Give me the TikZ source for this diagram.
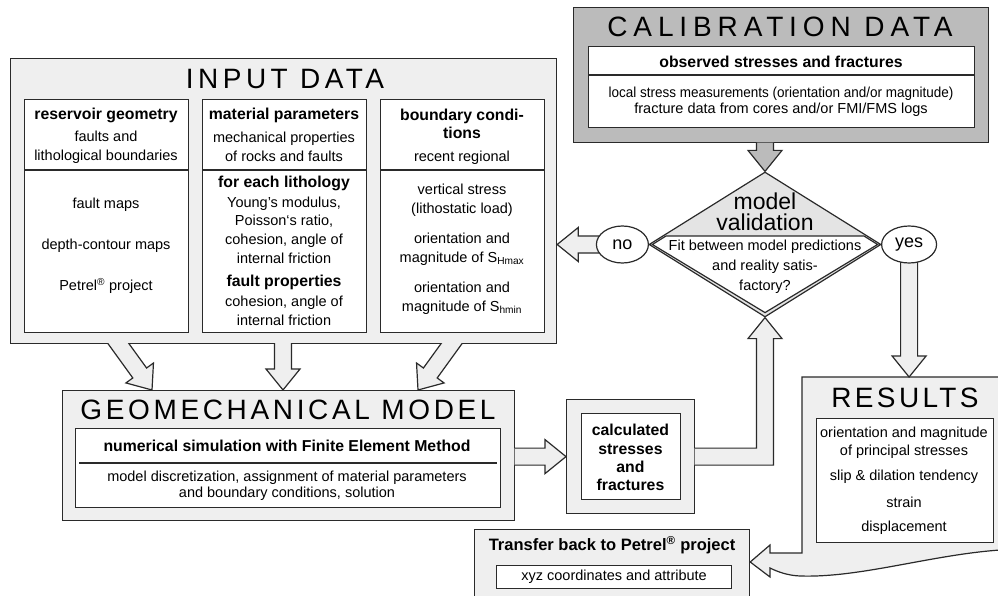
\documentclass[tikz,border=0pt]{standalone}
\usepackage{fontspec}
\usepackage{graphicx}
\setmainfont{Liberation Sans}
\usetikzlibrary{calc,shapes.geometric}

\definecolor{panel}{HTML}{EFEFEF}
\definecolor{calib}{HTML}{BBBBBB}
\definecolor{valid}{HTML}{E4E4E4}
\definecolor{edge}{HTML}{2A2A2A}

\newcommand\spaced[2]{{\addfontfeature{LetterSpace=#1}#2}}

\newcommand\fatarrow[3][panel]{%
  \coordinate (fa-b) at ($#3!21pt!#2$);
  \fill[#1] ($#2!8.5pt!90:#3$) -- ($(fa-b)!8.5pt!90:#3$) -- ($(fa-b)!17pt!90:#3$) -- #3
    -- ($(fa-b)!17pt!-90:#3$) -- ($(fa-b)!8.5pt!-90:#3$) -- ($#2!8.5pt!-90:#3$) -- cycle;
  \draw[edgeline] ($#2!8.5pt!90:#3$) -- ($(fa-b)!8.5pt!90:#3$) -- ($(fa-b)!17pt!90:#3$) -- #3
    -- ($(fa-b)!17pt!-90:#3$) -- ($(fa-b)!8.5pt!-90:#3$) -- ($#2!8.5pt!-90:#3$);
}

\tikzset{
  edgeline/.style={draw=edge, line width=1.2pt, line join=miter},
  panelbox/.style={edgeline, fill=panel, inner sep=0pt},
  card/.style={edgeline, fill=white, inner sep=0pt},
  body/.style={font=\fontsize{14.5}{18.7}\selectfont, align=center, inner sep=0pt},
  tight/.style={font=\fontsize{14.5}{16}\selectfont, align=center, inner sep=0pt},
  heading/.style={font=\fontsize{15.8}{18.3}\selectfont\bfseries, align=center, inner sep=0pt},
  bigtitle/.style={font=\fontsize{28}{30}\selectfont, inner sep=0pt},
  answer/.style={ellipse, edgeline, fill=white, inner sep=0pt, minimum height=37pt, font=\fontsize{18}{20}\selectfont},
}

\begin{document}
\begin{tikzpicture}[x=1pt, y=-1pt]
\useasboundingbox (0,0) rectangle (998,596);

\node[panelbox, anchor=north west, minimum width=546pt, minimum height=285pt] (input) at (10,58) {};
\node[bigtitle] (input-t) at (285,79) {\spaced{16}{INPUT DATA}};
\foreach \cx/\nm in {24/geom, 202/matl, 380/bdry}
{
    \node[card, anchor=north west, minimum width=164pt, minimum height=233pt] (\nm) at (\cx,99) {};
    \draw[edgeline] (\nm.west |- 0,170) -- (\nm.east |- 0,170);
}

\node[heading] (geom-h) at (106,115) {reservoir geometry};
\node[body] (geom-a) at (106,147) {faults and\\lithological boundaries};
\node[body] (geom-b) at (106,205) {fault maps};
\node[body] (geom-c) at (106,246) {depth-contour maps};
\node[body] (geom-d) at (106,286) {Petrel\textsuperscript{®} project};

\node[heading] (matl-h) at (284,115) {material parameters};
\node[body] (matl-a) at (284,147) {mechanical properties\\of rocks and faults};
\node[heading] (matl-b) at (284,183) {for each lithology};
\node[body] (matl-c) at (284,230) {Young's modulus,\\Poisson`s ratio,\\cohesion, angle of\\internal friction};
\node[heading] (matl-d) at (284,282) {fault properties};
\node[body] (matl-e) at (284,310.5) {cohesion, angle of\\internal friction};

\node[heading] (bdry-h) at (462,124) {boundary condi-\\tions};
\node[body] (bdry-a) at (462,158) {recent regional};
\node[body] (bdry-b) at (462,200) {vertical stress\\(lithostatic load)};
\node[body] (bdry-c) at (462,249.5) {orientation and\\magnitude of S\textsubscript{Hmax}};
\node[body] (bdry-d) at (462,298) {orientation and\\magnitude of S\textsubscript{hmin}};

\node[panelbox, fill=calib, anchor=north west, minimum width=415pt, minimum height=135pt] (calib) at (573,7) {};
\node[bigtitle] (calib-t) at (780,27) {\spaced{21}{CALIBRATION DATA}};
\node[card, anchor=north west, minimum width=386pt, minimum height=81pt] (obs) at (588,46) {};
\draw[edgeline] (obs.west |- 0,75) -- (obs.east |- 0,75);
\node[heading] (obs-h) at (781,62) {observed stresses and fractures};
\node[tight] (obs-a) at (781,102) {\scalebox{0.93}[1]{local stress measurements (orientation and/or magnitude)}\\fracture data from cores and/or FMI/FMS logs};

\node[panelbox, anchor=north west, minimum width=452pt, minimum height=130pt] (geo) at (62,390) {};
\node[bigtitle] (geo-t) at (288,410) {\spaced{13}{GEOMECHANICAL MODEL}};
\node[card, anchor=north west, minimum width=425pt, minimum height=79pt] (fem) at (75,428) {};
\draw[edgeline] ($(fem.west |- 0,463)+(4,0)$) -- ($(fem.east |- 0,463)+(-4,0)$);
\node[heading] (fem-h) at (287,446) {numerical simulation with Finite Element Method};
\node[tight] (fem-a) at (287,486) {model discretization, assignment of material parameters\\and boundary conditions, solution};

\node[diamond, edgeline, fill=valid, minimum width=232pt, minimum height=145pt, inner sep=0pt] (val) at (765,244.5) {};
\coordinate (il) at ($(val.west)+(4,0)$);
\coordinate (ir) at ($(val.east)+(-4,0)$);
\filldraw[edgeline, fill=white] (il) -- ($(il)+(13.6,-8.5)$) -- ($(ir)+(-13.6,-8.5)$) -- (ir) -- ($(val.south)+(0,-5)$) -- cycle;
\node[font=\fontsize{23}{21}\selectfont, align=center, inner sep=0pt] (val-t) at (765,212) {model\\validation};
\node[body, font=\fontsize{14.5}{20}\selectfont] (val-a) at (765,267) {Fit between model predictions\\and reality satis-\\factory?};

\node[panelbox, anchor=north west, minimum width=128pt, minimum height=114pt] (calcd) at (566,399) {};
\node[card, anchor=north west, minimum width=99pt, minimum height=86pt] (calcd-in) at (581,413) {};
\node[heading] (calcd-t) at (630.5,457.5) {calculated\\stresses\\and\\fractures};

\node[panelbox, anchor=north west, minimum width=275pt, minimum height=75pt] (transfer) at (474,529) {};
\node[heading, font=\fontsize{16.5}{18}\selectfont\bfseries] (transfer-t) at (612,545) {Transfer back to Petrel\textsuperscript{®} project};
\node[card, anchor=north west, minimum width=235pt, minimum height=23pt] (xyz) at (496,565) {};
\node[body] (xyz-t) at (xyz) {xyz coordinates and attribute};

\coordinate (res-nw) at (802,377);
\filldraw[edgeline, fill=panel] (res-nw) -- (1000,377) -- (1000,550)
    .. controls (930,555) and (860,578) .. (800,576)
    .. controls (788,575.5) and (778,572) .. (770,568)
    -- (770,577) -- (transfer.east |- 0,562) -- (770,545) -- (770,553) -- (802,553) -- cycle;
\node[card, anchor=north west, minimum width=177pt, minimum height=124pt] (res) at (816,418) {};
\node[bigtitle] (res-t) at (905,398) {\spaced{12}{RESULTS}};
\node[body, font=\fontsize{14.5}{17.5}\selectfont] (res-a) at (904,442.5) {orientation and magnitude\\of principal stresses};
\node[body] (res-b) at (904,477) {slip \& dilation tendency};
\node[body] (res-c) at (904,502) {strain};
\node[body] (res-d) at (904,528) {displacement};

\begin{scope}
\clip ($(input.south west)+(-5,-0.6)$) rectangle ($(geo.north east)+(5,5)$);
\coordinate (in-l) at (108.6,330);
\coordinate (in-m) at (283,330);
\coordinate (in-r) at (461.4,330);
\fatarrow{(in-l)}{($(geo.north west)+(90,0)$)}
\fatarrow{(in-m)}{($(geo.north west)+(221,0)$)}
\fatarrow{(in-r)}{($(geo.north west)+(356,0)$)}
\end{scope}

\coordinate (g-t) at ($(geo.east |- calcd.west)+(-0.6,0)$);
\fatarrow{(g-t)}{(calcd.west)}

\coordinate (up-head) at ($(val.south)+(0,21)$);
\coordinate (up-bend) at (val.south |- calcd.east);
\fill[panel] ($(calcd.east)+(-0.6,-8.5)$) -- ($(up-bend)+(-8.5,-8.5)$) -- ($(up-head)+(-8.5,0)$) -- ($(up-head)+(-17,0)$) -- (val.south)
    -- ($(up-head)+(17,0)$) -- ($(up-head)+(8.5,0)$) -- ($(up-bend)+(8.5,8.5)$) -- ($(calcd.east)+(-0.6,8.5)$) -- cycle;
\draw[edgeline] ($(calcd.east)+(-0.6,-8.5)$) -- ($(up-bend)+(-8.5,-8.5)$) -- ($(up-head)+(-8.5,0)$) -- ($(up-head)+(-17,0)$) -- (val.south)
    -- ($(up-head)+(17,0)$) -- ($(up-head)+(8.5,0)$) -- ($(up-bend)+(8.5,8.5)$) -- ($(calcd.east)+(-0.6,8.5)$);

\coordinate (c-t) at ($(calib.south -| val.north)+(0,-0.6)$);
\fatarrow[calib]{(c-t)}{(val.north)}

\coordinate (no-c) at ($(val.west)+(-26,0)$);
\coordinate (no-t) at ($(val.west)+(-40,0)$);
\fatarrow{(no-t)}{(input.east |- val.west)}
\coordinate (yes-c) at ($(val.east)+(27.5,0)$);
\coordinate (yes-t) at ($(yes-c)+(0,10)$);
\fatarrow{(yes-t)}{(yes-c |- res-nw)}

\node[answer, minimum width=52pt] (no) at (no-c) {no};
\node[answer, minimum width=55pt] (yes) at (yes-c) {yes};

\end{tikzpicture}
\end{document}
